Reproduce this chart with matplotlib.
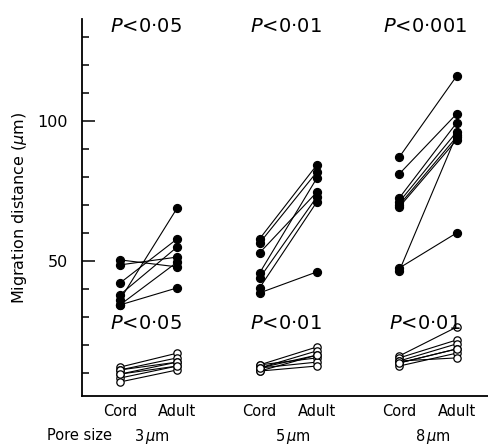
import matplotlib.pyplot as plt
import numpy as np

# pore sizes (group order) and P values
pore_sizes = ['3', '5', '8']
p_top = ['0·05', '0·01', '0·001']
p_bottom = ['0·05', '0·01', '0·01']

# filled circles (upper groups): paired cord / adult values
cord_hi_3 = [50.4, 48.6, 42.1, 36.1, 37.9, 34.3, 34.3]
adult_hi_3 = [47.9, 51.4, 57.9, 68.9, 55.0, 49.6, 40.4]
cord_hi_5 = [57.9, 56.4, 52.9, 45.7, 43.9, 40.4, 38.6]
adult_hi_5 = [84.3, 81.8, 74.6, 79.6, 72.9, 71.1, 46.1]
cord_hi_8 = [87.1, 81.1, 72.5, 71.1, 70.0, 69.3, 47.5, 46.5]
adult_hi_8 = [116.0, 102.5, 99.3, 96.1, 94.3, 93.2, 60.0, 95.0]

# open circles (lower groups)
cord_lo_3 = [12.1, 11.1, 9.6, 8.2, 6.8, 11.1, 9.6]
adult_lo_3 = [17.1, 15.4, 13.9, 12.5, 11.1, 13.9, 12.5]
cord_lo_5 = [12.9, 11.8, 10.7, 12.9, 11.8, 10.7, 11.8]
adult_lo_5 = [19.3, 17.9, 16.4, 15.4, 13.9, 12.5, 16.4]
cord_lo_8 = [16.1, 15.4, 14.3, 13.6, 12.5, 14.3, 13.6]
adult_lo_8 = [26.4, 21.8, 20.4, 18.6, 17.1, 15.4, 18.6]

hi = [(cord_hi_3, adult_hi_3), (cord_hi_5, adult_hi_5), (cord_hi_8, adult_hi_8)]
lo = [(cord_lo_3, adult_lo_3), (cord_lo_5, adult_lo_5), (cord_lo_8, adult_lo_8)]

W, H = 489, 447
fig = plt.figure(figsize=(W / 100, H / 100), dpi=100)
ax = fig.add_axes([82 / W, (H - 396) / H, 1 - 82 / W, (396 - 19) / H])

off = 0.205
for g in range(3):
    xc, xa = g - off, g + off
    for c, a in zip(*lo[g]):
        ax.plot([xc, xa], [c, a], color='black', lw=0.8, zorder=1)
    ax.scatter([xc] * len(lo[g][0]) + [xa] * len(lo[g][1]), lo[g][0] + lo[g][1],
               s=28, facecolor='white', edgecolor='black', linewidth=0.9, zorder=2)
    for c, a in zip(*hi[g]):
        ax.plot([xc, xa], [c, a], color='black', lw=0.8, zorder=1)
    ax.scatter([xc] * len(hi[g][0]) + [xa] * len(hi[g][1]), hi[g][0] + hi[g][1],
               s=32, color='black', zorder=2)

# P value labels
for g in range(3):
    ax.text(g - 0.02, 133.6, '$P$<' + p_top[g], ha='center', va='center', fontsize=14)
    ax.text(g - 0.02, 27.6, '$P$<' + p_bottom[g], ha='center', va='center', fontsize=14)

ax.set_xlim(-0.476, 2.437)
ax.set_ylim(1.8, 136.4)

ax.spines['top'].set_visible(False)
ax.spines['right'].set_visible(False)
ax.spines['left'].set_linewidth(1.3)
ax.spines['bottom'].set_linewidth(1.3)

ax.set_yticks([50, 100])
ax.set_yticks(np.arange(10, 131, 10), minor=True)
ax.tick_params(axis='y', which='major', direction='in', length=9, width=1.1, labelsize=11.5, pad=10)
ax.tick_params(axis='y', which='minor', direction='in', length=5, width=1.1)

xt = []
xl = []
for g in range(3):
    xt += [g - off, g + off]
    xl += ['Cord', 'Adult']
ax.set_xticks(xt)
ax.set_xticklabels(xl, fontsize=10.5)
ax.tick_params(axis='x', length=0, pad=6)

ax.set_ylabel('Migration distance ($\\mu$m)', fontsize=11.5, labelpad=6)

fig.text(47 / W, 1 - 436 / H, 'Pore size', ha='left', va='center', fontsize=10.5)
for g, size in enumerate(pore_sizes):
    xpix = 148.5 + 139.75 * g + (3 if g == 0 else 5)
    fig.text(xpix / W, 1 - 436 / H, size + '$\\,\\mu$m', ha='center', va='center', fontsize=10.5)

fig.savefig('out.png', dpi=100)
